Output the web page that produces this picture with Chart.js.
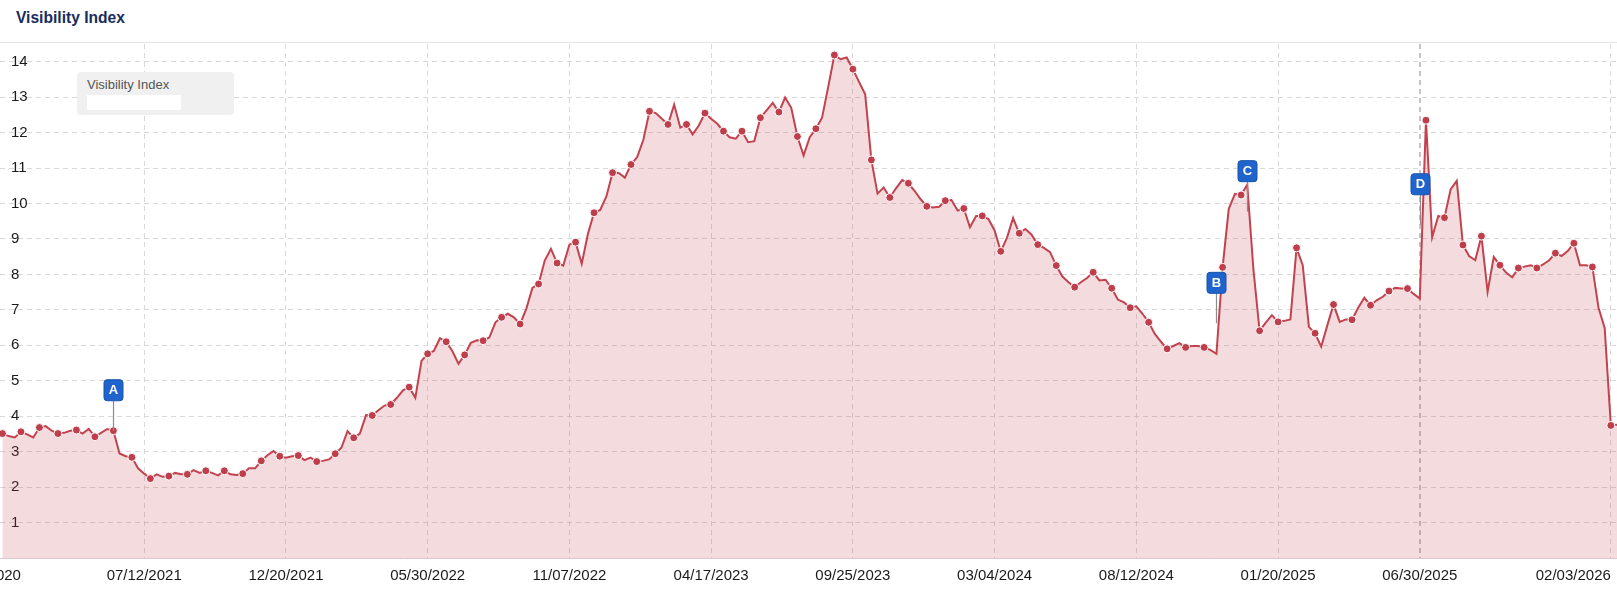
<!DOCTYPE html>
<html>
<head>
<meta charset="utf-8">
<title>Visibility Index</title>
<script src="https://cdn.jsdelivr.net/npm/chart.js@4.4.1/dist/chart.umd.min.js"></script>
<style>
  html, body { margin: 0; padding: 0; background: #fff; }
  body { width: 1617px; height: 591px; position: relative; overflow: hidden; font-family: "Liberation Sans", Arial, sans-serif; }
  .title { position: absolute; left: 16px; top: 9px; font-weight: bold; font-size: 15.6px; line-height: 18px; color: #172d5c; }
  .rule { position: absolute; left: 0; top: 42px; width: 1617px; height: 1px; background: #e4e4e4; }
  .chart-wrap { position: absolute; left: 0; top: 44px; width: 1617px; height: 547px; }
  .legend-box { position: absolute; left: 77px; top: 72px; width: 157px; height: 43px; background: #f0f0f0; border-radius: 4px; box-sizing: border-box; padding: 5px 0 0 10px; }
  .legend-box .name { font-size: 13px; line-height: 16px; color: #555; }
  .legend-box .swatch { position: absolute; left: 10px; top: 23px; width: 94px; height: 15px; background: #fff; }
</style>
</head>
<body>
<div class="title">Visibility Index</div>
<div class="rule"></div>
<div class="chart-wrap"><canvas id="chart" width="1617" height="547"></canvas></div>
<div class="legend-box"><div class="name">Visibility Index</div><div class="swatch"></div></div>
<script>
// weekly visibility values, one per week starting 02/01/2021
const weekValues = [
  3.51, 3.44, 3.40, 3.56, 3.49, 3.40, 3.68, 3.72, 3.59, 3.51,
  3.53, 3.59, 3.61, 3.51, 3.64, 3.42, 3.53, 3.64, 3.59, 2.95,
  2.87, 2.84, 2.53, 2.38, 2.24, 2.36, 2.29, 2.31, 2.40, 2.36,
  2.36, 2.48, 2.40, 2.46, 2.40, 2.33, 2.46, 2.36, 2.34, 2.38,
  2.53, 2.53, 2.74, 2.90, 3.02, 2.87, 2.83, 2.87, 2.89, 2.76,
  2.83, 2.72, 2.74, 2.78, 2.94, 3.11, 3.58, 3.39, 3.51, 4.03,
  4.02, 4.17, 4.30, 4.33, 4.52, 4.73, 4.82, 4.52, 5.56, 5.76,
  5.84, 6.20, 6.10, 5.84, 5.48, 5.73, 6.07, 6.14, 6.13, 6.22,
  6.65, 6.79, 6.89, 6.79, 6.60, 7.03, 7.62, 7.73, 8.39, 8.72,
  8.32, 8.25, 8.84, 8.91, 8.30, 9.14, 9.74, 9.82, 10.20, 10.87,
  10.86, 10.73, 11.10, 11.31, 11.80, 12.60, 12.55, 12.39, 12.23, 12.79,
  12.14, 12.23, 11.95, 12.20, 12.55, 12.39, 12.25, 12.04, 11.87, 11.83,
  12.04, 11.73, 11.76, 12.42, 12.63, 12.84, 12.58, 12.99, 12.70, 11.89,
  11.35, 11.87, 12.11, 12.42, 13.29, 14.19, 14.07, 14.12, 13.79, 13.43,
  13.08, 11.23, 10.28, 10.45, 10.17, 10.43, 10.66, 10.57, 10.36, 10.12,
  9.92, 9.89, 9.91, 10.08, 10.10, 9.80, 9.86, 9.33, 9.65, 9.65,
  9.56, 9.24, 8.65, 9.03, 9.59, 9.16, 9.28, 9.12, 8.84, 8.75,
  8.63, 8.25, 7.94, 7.78, 7.64, 7.78, 7.90, 8.06, 7.83, 7.85,
  7.61, 7.29, 7.21, 7.06, 7.10, 6.89, 6.65, 6.32, 6.10, 5.90,
  5.98, 6.06, 5.94, 5.98, 5.98, 5.94, 5.87, 5.76, 8.20, 9.85,
  10.27, 10.24, 10.53, 8.14, 6.41, 6.64, 6.85, 6.66, 6.69, 6.73,
  8.75, 8.26, 6.52, 6.34, 5.96, 6.57, 7.15, 6.66, 6.73, 6.72,
  7.06, 7.34, 7.13, 7.27, 7.37, 7.53, 7.62, 7.60, 7.60, 7.45,
  7.32, 12.35, 9.05, 9.65, 9.60, 10.40, 10.64, 8.83, 8.52, 8.40,
  9.08, 7.51, 8.49, 8.26, 8.05, 7.92, 8.18, 8.22, 8.26, 8.18,
  8.28, 8.40, 8.60, 8.52, 8.66, 8.88, 8.26, 8.26, 8.21, 7.06,
  6.49, 3.74, 3.76
];

// x-axis ticks, as week numbers, with their date labels
const tickWeeks = [-9, 23, 46, 69, 92, 115, 138, 161, 184, 207, 230, 261];
const tickLabels = ['11/30/2020', '07/12/2021', '12/20/2021', '05/30/2022', '11/07/2022', '04/17/2023',
  '09/25/2023', '03/04/2024', '08/12/2024', '01/20/2025', '06/30/2025', '02/03/2026'];

const yTicks = [1, 2, 3, 4, 5, 6, 7, 8, 9, 10, 11, 12, 13, 14];

// event flags: letter, week and the value where the stem ends
const markerLabels = ['A', 'B', 'C', 'D'];
const markerWeeks = [18, 197, 202, 230];
const markerValues = [3.59, 6.62, 9.77, 9.40];

const fontFamily = '"Liberation Sans", Arial, sans-serif';

const flagPlugin = {
  id: 'flags',
  afterDatasetsDraw(chart) {
    const { ctx, scales: { x, y } } = chart;
    ctx.save();
    markerLabels.forEach((label, i) => {
      const px = Math.round(x.getPixelForValue(markerWeeks[i])) + 0.5;
      const py = y.getPixelForValue(markerValues[i]);
      const boxBottom = py - 30;
      // stem
      ctx.strokeStyle = '#8c8c8c';
      ctx.lineWidth = 1.2;
      ctx.beginPath();
      ctx.moveTo(px, boxBottom);
      ctx.lineTo(px, py);
      ctx.stroke();
      // box
      ctx.beginPath();
      ctx.roundRect(px - 9.5, boxBottom - 21, 19, 21, 3);
      ctx.fillStyle = '#1f63cd';
      ctx.fill();
      ctx.strokeStyle = '#1a53ad';
      ctx.lineWidth = 1;
      ctx.stroke();
      ctx.fillStyle = '#fff';
      ctx.font = 'bold 13px ' + fontFamily;
      ctx.textAlign = 'center';
      ctx.textBaseline = 'middle';
      ctx.fillText(label, px, boxBottom - 10);
    });
    ctx.restore();
  }
};

// grid line on a flagged week is drawn a bit stronger
const isFlagWeek = (c) => c.tick && markerWeeks.includes(c.tick.value);

const ctx = document.getElementById('chart').getContext('2d');
new Chart(ctx, {
  type: 'line',
  data: {
    datasets: [{
      label: 'Visibility Index',
      data: weekValues.map((v, i) => ({ x: i, y: v })),
      borderColor: '#c2434f',
      borderWidth: 2,
      backgroundColor: 'rgba(196, 66, 80, 0.19)',
      fill: 'origin',
      tension: 0,
      pointRadius: (c) => (c.dataIndex % 3 === 0 ? 4 : 0),
      pointBackgroundColor: '#be3e4b',
      pointBorderColor: '#ffffff',
      pointBorderWidth: 1,
      pointHoverRadius: 0
    }]
  },
  options: {
    responsive: false,
    animation: false,
    devicePixelRatio: 1,
    layout: { padding: 0, autoPadding: false },
    plugins: {
      legend: { display: false },
      tooltip: { enabled: false }
    },
    scales: {
      x: {
        type: 'linear',
        min: -0.4,
        max: 262,
        afterBuildTicks: (s) => { s.ticks = tickWeeks.map((v) => ({ value: v })); },
        afterFit: (s) => { s.height = 33; s.paddingLeft = 0; s.paddingRight = 0; },
        grid: {
          color: (c) => (isFlagWeek(c) ? '#c4c4c4' : '#d9d9d9'),
          lineWidth: (c) => (isFlagWeek(c) ? 2 : 1),
          drawTicks: false
        },
        border: { display: true, color: '#dbc6c9', dash: [5, 4] },
        ticks: {
          autoSkip: false,
          maxRotation: 0,
          align: 'inner',
          padding: 9,
          color: '#1a1a1a',
          font: { size: 15, family: fontFamily },
          callback: (v) => tickLabels[tickWeeks.indexOf(v)]
        }
      },
      y: {
        min: 0,
        max: 14.5,
        position: 'left',
        afterBuildTicks: (s) => { s.ticks = yTicks.map((v) => ({ value: v })); },
        afterFit: (s) => { s.width = 0; s.paddingTop = 0; s.paddingBottom = 0; },
        grid: { color: '#d9d9d9', drawTicks: false },
        border: { display: false, dash: [5, 4] },
        ticks: {
          mirror: true,
          padding: 11,
          color: '#1a1a1a',
          font: { size: 15, family: fontFamily }
        }
      }
    }
  },
  plugins: [flagPlugin]
});
</script>
</body>
</html>
